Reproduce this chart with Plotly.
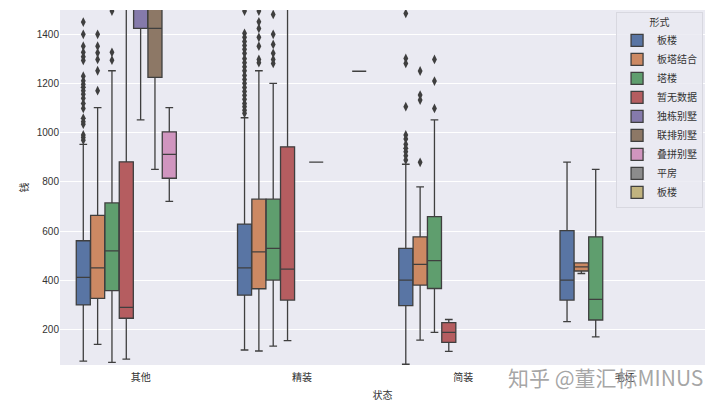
import plotly.graph_objects as go

# categories on x, hue levels in legend
categories = ["其他", "精装", "简装", "毛坯"]
forms = ["板楼", "板塔结合", "塔楼", "暂无数据", "独栋别墅", "联排别墅", "叠拼别墅", "平房", "板楼 "]
colors = ["#5975a4", "#cc8963", "#5f9e6e", "#b55d60", "#857aab",
          "#8d7866", "#d095bf", "#8c8c8c", "#c1b37f"]

# box stats, [form][category], None = no data
q1 = [
    [300, 340, 297, 320],
    [327, 366, 381, 438],
    [358, 401, 367, 239],
    [246, 320, 148, None],
    [1424, None, None, None],
    [1225, 881, None, 921],
    [815, None, None, None],
    [None, None, None, None],
    [None, 1250, None, None],
]
median = [
    [412, 451, 401, 401],
    [451, 516, 465, 455],
    [520, 530, 480, 323],
    [290, 446, 189, None],
    [1700, None, None, None],
    [1424, 881, None, 921],
    [912, None, None, None],
    [None, None, None, None],
    [None, 1250, None, None],
]
q3 = [
    [561, 629, 530, 602],
    [664, 730, 577, 471],
    [715, 730, 659, 577],
    [882, 943, 228, None],
    [2100, None, None, None],
    [1800, 881, None, 921],
    [1004, None, None, None],
    [None, None, None, None],
    [None, 1250, None, None],
]
lower = [
    [72, 117, 59, 232],
    [140, 113, 157, 428],
    [67, 133, 189, 170],
    [80, 155, 111, None],
    [1052, None, None, None],
    [851, 881, None, 921],
    [721, None, None, None],
    [None, None, None, None],
    [None, 1250, None, None],
]
upper = [
    [953, 1061, 872, 881],
    [1102, 1252, 780, 471],
    [1252, 1201, 1052, 851],
    [2600, 2300, 241, None],
    [3000, None, None, None],
    [2600, 881, None, 921],
    [1102, None, None, None],
    [None, None, None, None],
    [None, 1250, None, None],
]
outliers = [
    [
        [1450, 1400, 1352, 1327, 1309, 1294, 1230, 1211, 1197, 1185, 1171, 1157,
         1140, 1119, 1099, 1059, 1045, 1035, 991, 981, 970],
        [1495, 1404, 1388, 1371, 1355, 1339, 1323, 1301, 1285, 1268, 1252, 1233,
         1217, 1201, 1184, 1168, 1152, 1136, 1119, 1106, 1092, 1079],
        [1485, 1302, 1282, 1106, 991, 975, 953, 937, 923, 907, 889],
        [],
    ],
    [
        [1400, 1352, 1325, 1298, 1252, 1171],
        [1495, 1451, 1424, 1388, 1352, 1298, 1285],
        [1251, 1153, 1133, 880],
        [],
    ],
    [
        [1495, 1327, 1295],
        [1481, 1400, 1359, 1323, 1298, 1282],
        [1298, 1210, 1099],
        [],
    ],
]

n_hue = len(forms)
box_w = 0.8 / n_hue
edge = "#3f3f3f"

fig = go.Figure()

for j, form in enumerate(forms):
    xs, a, b, c, lo, hi = [], [], [], [], [], []
    for i in range(len(categories)):
        if q1[j][i] is None:
            continue
        xs.append(i + (j - (n_hue - 1) / 2) * box_w)
        a.append(q1[j][i])
        b.append(median[j][i])
        c.append(q3[j][i])
        lo.append(lower[j][i])
        hi.append(upper[j][i])
    if not xs:
        # no data for this level: keep its legend entry with an off-axis dummy box
        xs, a, b, c, lo, hi = [-10], [0], [0], [0], [0], [0]
    fig.add_trace(go.Box(
        name=form, x=xs, q1=a, median=b, q3=c, lowerfence=lo, upperfence=hi,
        width=box_w * 0.98, whiskerwidth=0.55,
        fillcolor=colors[j], line=dict(color=edge, width=1.3),
        boxpoints=False, showlegend=True, legendgroup=form, hoverinfo="y",
    ))

# fliers
for j in range(len(outliers)):
    for i in range(len(categories)):
        pts = outliers[j][i]
        if not pts:
            continue
        fig.add_trace(go.Scatter(
            x=[i + (j - (n_hue - 1) / 2) * box_w] * len(pts), y=pts,
            mode="markers", showlegend=False, hoverinfo="y",
            marker=dict(symbol="diamond-tall", size=7, color=edge),
        ))

fig.update_layout(
    width=720, height=406,
    margin=dict(l=60, r=15, t=10, b=41),
    paper_bgcolor="white", plot_bgcolor="#eaeaf2",
    boxmode="overlay",
    font=dict(family="Liberation Sans, Noto Sans CJK SC, sans-serif", size=10, color="#333"),
    legend=dict(
        title=dict(text="形式", side="top center", font=dict(size=10)),
        x=0.997, y=0.995, xanchor="right", yanchor="top",
        bgcolor="rgba(234,234,242,0.85)", bordercolor="#d8d8e0", borderwidth=1,
        font=dict(size=10), itemwidth=30, tracegroupgap=0,
    ),
    annotations=[dict(
        text="知乎 @董汇标MINUS", xref="paper", yref="paper", x=1.0, y=-0.035,
        xanchor="right", yanchor="middle", showarrow=False,
        font=dict(size=21, color="rgba(150,150,150,0.85)",
                  family="Noto Sans CJK SC, sans-serif"),
    )],
)
fig.update_xaxes(
    range=[-0.5, 3.5], tickvals=list(range(len(categories))), ticktext=categories,
    showgrid=False, zeroline=False, ticks="", ticklen=0, automargin=False,
    ticklabelstandoff=5,
    title=dict(text="状态", standoff=9, font=dict(size=10)),
)
fig.update_yaxes(
    range=[56, 1499], tickvals=[200, 400, 600, 800, 1000, 1200, 1400],
    showgrid=True, gridcolor="white", gridwidth=1, zeroline=False, automargin=False,
    title=dict(text="钱", standoff=6, font=dict(size=10)),
)

# drop the default page margin so the figure sits at the window's corner
fig.write_html("out.html", config={"displayModeBar": False},
               post_script="document.body.style.margin = '0';")
